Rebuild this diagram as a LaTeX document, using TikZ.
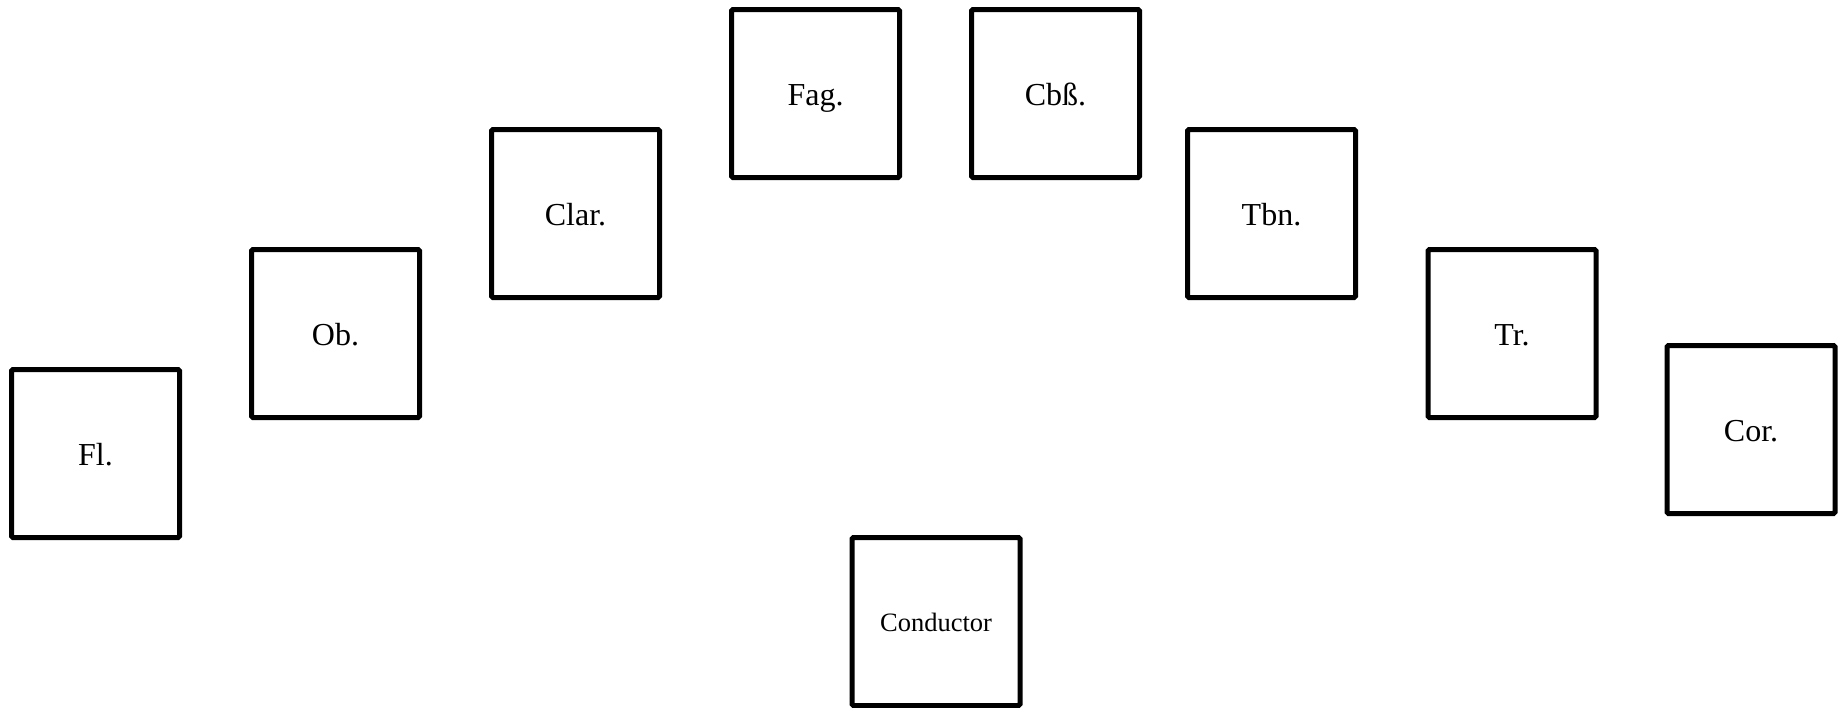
\documentclass[tikz,border=0pt]{standalone}
\usepackage{fontspec}
\setmainfont{Liberation Serif}
\begin{document}
\begin{tikzpicture}[x=1pt,y=-1pt,
  seat/.style={draw=black,line width=5pt,rounded corners=1.5pt,minimum width=168pt,minimum height=168pt,inner sep=0pt,text height=23pt,text depth=0pt,font=\fontsize{32}{36}\selectfont},
  condbox/.style={seat,text height=20pt,font=\fontsize{26.5}{30}\selectfont}]
\useasboundingbox (0,0) rectangle (1841,707);
\node[seat] (fl) at (95.5,453.5) {Fl.};
\node[seat] (ob) at (335.5,333.5) {Ob.};
\node[seat] (clar) at (575.5,213.5) {Clar.};
\node[seat] (fag) at (815.5,93.5) {Fag.};
\node[seat] (cbs) at (1055.5,93.5) {Cbß.};
\node[seat] (tbn) at (1271.5,213.5) {Tbn.};
\node[seat] (tr) at (1512,333.5) {Tr.};
\node[seat] (cor) at (1751,429.5) {Cor.};
\node[condbox] (cond) at (936,621.5) {Conductor};
\end{tikzpicture}
\end{document}
